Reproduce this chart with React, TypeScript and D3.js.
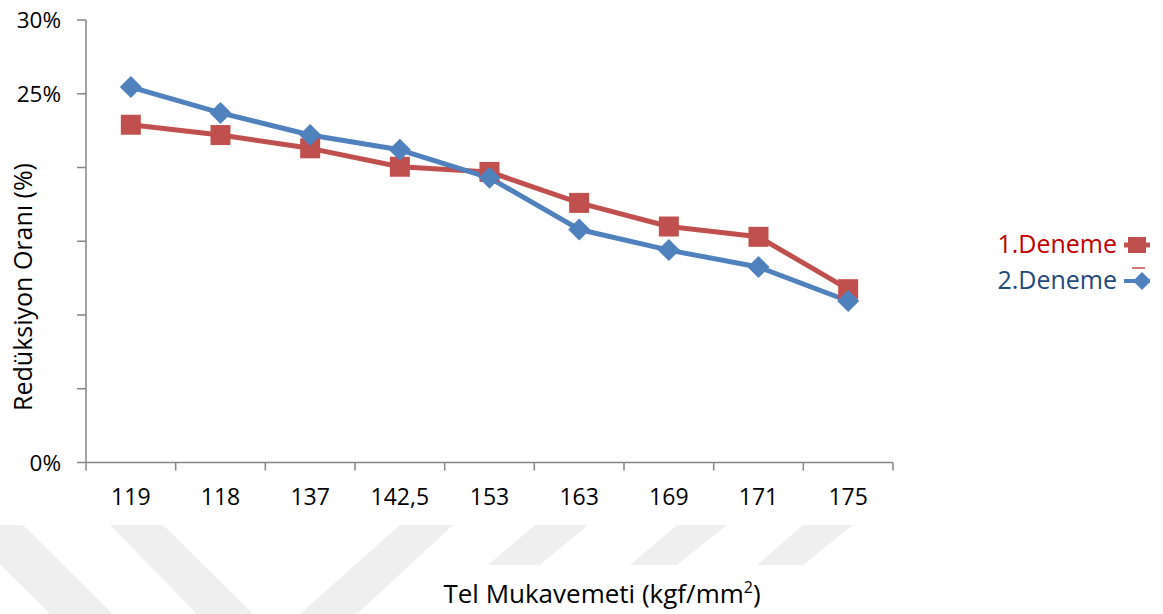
import React from "react";
import * as d3 from "d3";

// Wire strength categories (kgf/mm²) along the x axis
const categories = ["119", "118", "137", "142,5", "153", "163", "169", "171", "175"];

// Reduction ratio (%) per trial
const deneme1 = [22.9, 22.2, 21.3, 20.05, 19.7, 17.6, 16.0, 15.3, 11.75];
const deneme2 = [25.45, 23.7, 22.2, 21.2, 19.3, 15.8, 14.4, 13.25, 10.95];

// Y axis ticks (%), only some of them carry a label
const yTicks = [0, 5, 10, 15, 20, 25, 30];
const yTickLabels = ["0%", "", "", "", "", "25%", "30%"];

const seriesNames = ["1.Deneme", "2.Deneme"];

const W = 1163;
const H = 614;
const FONT = "'Open Sans', 'Noto Sans', sans-serif";

const RED = "#C0504D";
const BLUE = "#4F81BD";
const AXIS = "#868686";

// faint background watermark bands
const watermark: [number, number][][] = [
  [[-40, 525], [23, 525], [113, 614], [50, 614]],
  [[110, 525], [163, 525], [253, 614], [197, 614]],
  [[400, 525], [453, 525], [357, 614], [300, 614]],
  [[535, 525], [588, 525], [540, 565], [488, 565]],
  [[677, 525], [727, 525], [677, 565], [630, 565]],
  [[803, 525], [853, 525], [803, 565], [757, 565]],
];

export default function App() {
  const x = d3.scaleBand<string>().domain(categories).range([86, 893]).padding(0);
  const y = d3.scaleLinear().domain([0, 30]).range([462.5, 20]);
  const cx = (c: string) => (x(c) as number) + x.bandwidth() / 2;

  const line = d3
    .line<number>()
    .x((_, i) => cx(categories[i]))
    .y((v) => y(v));

  const boundaries = [...categories.map((c) => x(c) as number), 893];
  const diamond = (r: number) => `M0,${-r}L${r},0L0,${r}L${-r},0Z`;

  return (
    <svg
      width={W}
      height={H}
      style={{ position: "absolute", left: 0, top: 0, background: "#fff" }}
      fontFamily={FONT}
    >
      <defs>
        <clipPath id="legendClip">
          <rect x={0} y={0} width={1150} height={H} />
        </clipPath>
      </defs>
      {watermark.map((p, i) => (
        <polygon key={i} points={p.map((q) => q.join(",")).join(" ")} fill="#efefef" />
      ))}

      {/* y axis */}
      <line x1={86} x2={86} y1={y(30)} y2={y(0)} stroke={AXIS} strokeWidth={1.5} />
      {yTicks.map((t, i) => (
        <g key={t}>
          <line x1={77} x2={86} y1={y(t)} y2={y(t)} stroke={AXIS} strokeWidth={1.5} />
          {yTickLabels[i] && (
            <text x={61} y={y(t)} dy="0.36em" textAnchor="end" fontSize={22.5} fill="#000">
              {yTickLabels[i]}
            </text>
          )}
        </g>
      ))}

      {/* x axis */}
      <line x1={86} x2={893} y1={y(0)} y2={y(0)} stroke={AXIS} strokeWidth={1.5} />
      {boundaries.map((b, i) => (
        <line key={i} x1={b} x2={b} y1={y(0)} y2={y(0) + 8} stroke={AXIS} strokeWidth={1.5} />
      ))}
      {categories.map((c) => (
        <text key={c} x={cx(c)} y={505} textAnchor="middle" fontSize={23} fill="#000">
          {c}
        </text>
      ))}

      {/* axis titles */}
      <text
        transform={`translate(32,287) rotate(-90)`}
        textAnchor="middle"
        fontSize={25}
        fill="#000"
      >
        Redüksiyon Oranı (%)
      </text>
      <text x={602} y={603} textAnchor="middle" fontSize={26} fill="#000">
        Tel Mukavemeti (kgf/mm
        <tspan dy={-10} fontSize={16}>2</tspan>
        <tspan dy={10}>)</tspan>
      </text>

      {/* series lines */}
      <path d={line(deneme1) || ""} fill="none" stroke={RED} strokeWidth={5} strokeLinejoin="round" />
      <path d={line(deneme2) || ""} fill="none" stroke={BLUE} strokeWidth={5} strokeLinejoin="round" />
      {deneme1.map((v, i) => (
        <rect key={i} x={cx(categories[i]) - 10} y={y(v) - 10} width={20} height={20} fill={RED} />
      ))}
      {deneme2.map((v, i) => (
        <path
          key={i}
          d={diamond(11)}
          transform={`translate(${cx(categories[i])},${y(v)})`}
          fill={BLUE}
        />
      ))}

      {/* legend */}
      <text x={1117} y={253} textAnchor="end" fontSize={25} fill="#C00000">
        {seriesNames[0]}
      </text>
      <text x={1117} y={289} textAnchor="end" fontSize={25} fill="#1F497D">
        {seriesNames[1]}
      </text>
      <g clipPath="url(#legendClip)">
        <line x1={1124} x2={1160} y1={245} y2={245} stroke={RED} strokeWidth={5} />
        <rect x={1128} y={237} width={18} height={16} fill={RED} />
        <line x1={1124} x2={1160} y1={281} y2={281} stroke={BLUE} strokeWidth={4} />
        <path d={diamond(9)} transform="translate(1142,281)" fill={BLUE} />
        <line x1={1132} x2={1145} y1={268} y2={268} stroke={RED} strokeWidth={1.5} />
      </g>
    </svg>
  );
}
